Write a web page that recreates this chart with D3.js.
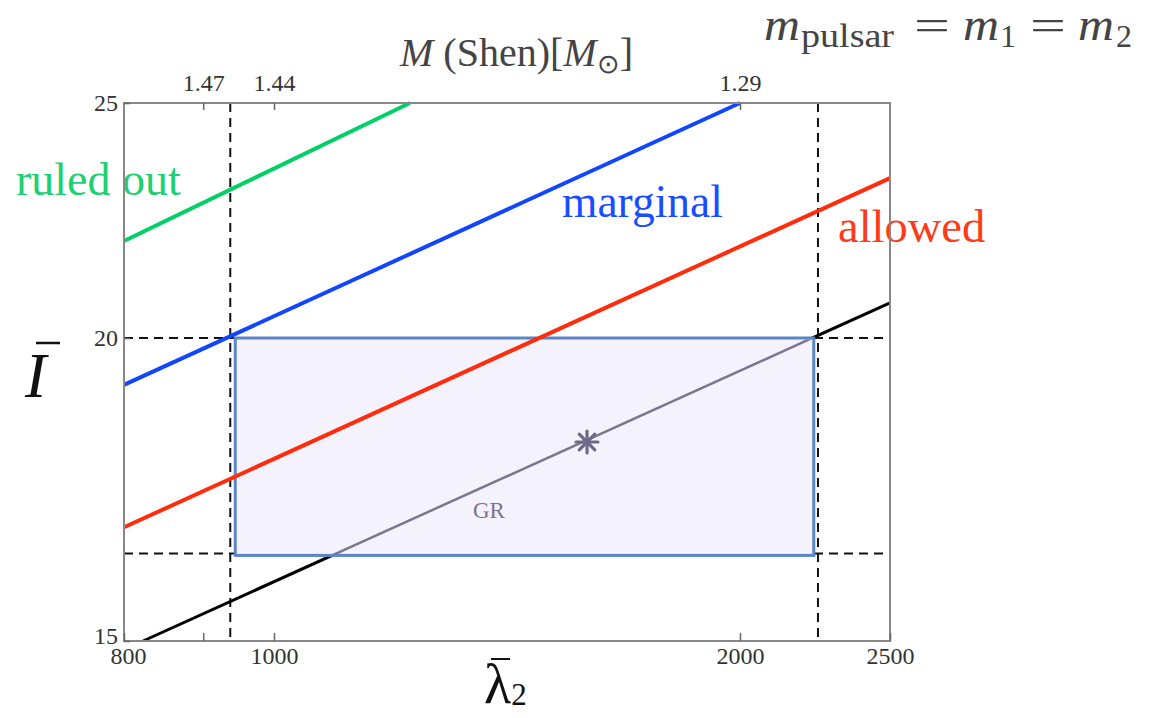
<!DOCTYPE html>
<html>
<head>
<meta charset="utf-8">
<script src="https://cdn.jsdelivr.net/npm/d3@7"></script>
<style>
  html, body { margin: 0; padding: 0; background: #fff; }
  svg { display: block; font-family: "Liberation Serif", "Times New Roman", serif; }
</style>
</head>
<body>
<svg id="chart" width="1149" height="718"></svg>
<script>
// Tidal deformability vs. moment of inertia (log-log)
const lambdaTicks = [800, 900, 1000, 2000, 2500];
const lambdaTickLabels = ["800", "", "1000", "2000", "2500"];
const massTickLambda = [900, 1000, 2000];
const massTickLabels = ["1.47", "1.44", "1.29"];
const inertiaTicks = [15, 20, 25];

// Straight (power-law) relations, given by their end points [lambda, I]
const ruledOutLine = [[800, 21.93], [1224, 25]];
const marginalLine = [[800, 19.13], [2000, 25]];
const allowedLine  = [[800, 16.71], [2500, 23.28]];
const grLine       = [[823, 15], [2500, 20.68]];
const grPoint      = [1593, 18.12];

// Measurement bounds and the allowed window
const lambdaLimits  = [937, 2246];
const inertiaLimits = [16.3, 20];
const boxLambda  = [944, 2232];
const boxInertia = [16.27, 20];

const W = 1149, H = 718;
const plot = { left: 124, right: 890, top: 103, bottom: 641 };

const svg = d3.select("#chart");
svg.append("rect").attr("width", W).attr("height", H).attr("fill", "#fff");

const x = d3.scaleLog().domain([800, 2500]).range([plot.left, plot.right]);
const y = d3.scaleLog().domain([15, 25]).range([plot.bottom, plot.top]);

const line = d3.line().x(d => x(d[0])).y(d => y(d[1]));

// dashed bounds
const dashes = svg.append("g")
  .attr("stroke", "#111").attr("stroke-width", 2).attr("stroke-dasharray", "9,6").attr("fill", "none");
lambdaLimits.forEach(v => {
  dashes.append("line").attr("x1", x(v)).attr("x2", x(v)).attr("y1", plot.top).attr("y2", plot.bottom);
});
inertiaLimits.forEach(v => {
  dashes.append("line").attr("x1", plot.left).attr("x2", plot.right).attr("y1", y(v)).attr("y2", y(v));
});

// GR relation (black), then the window on top of it
svg.append("path").attr("d", line(grLine))
  .attr("fill", "none").attr("stroke", "#000").attr("stroke-width", 3);

const bx0 = x(boxLambda[0]), bx1 = x(boxLambda[1]);
const by0 = y(boxInertia[1]), by1 = y(boxInertia[0]);
svg.append("rect")
  .attr("x", bx0).attr("y", by0).attr("width", bx1 - bx0).attr("height", by1 - by0)
  .attr("fill", "#f4f2fc").attr("stroke", "#5b86c4").attr("stroke-width", 3);

svg.append("clipPath").attr("id", "boxClip")
  .append("rect").attr("x", bx0 + 1.5).attr("y", by0 + 1.5)
  .attr("width", bx1 - bx0 - 3).attr("height", by1 - by0 - 3);

svg.append("path").attr("d", line(grLine)).attr("clip-path", "url(#boxClip)")
  .attr("fill", "none").attr("stroke", "#7c7592").attr("stroke-width", 2.5);

// GR point
const px = x(grPoint[0]), py = y(grPoint[1]);
const star = svg.append("g").attr("stroke", "#6f6989").attr("stroke-width", 3.2).attr("stroke-linecap", "round");
[0, 45, 90, 135].forEach(a => {
  const r = 11, t = a * Math.PI / 180;
  star.append("line")
    .attr("x1", px - r * Math.cos(t)).attr("y1", py - r * Math.sin(t))
    .attr("x2", px + r * Math.cos(t)).attr("y2", py + r * Math.sin(t));
});

svg.append("text").attr("x", 473).attr("y", 518)
  .attr("font-size", 23).attr("fill", "#7a7292").text("GR");

// bound relations
const series = [
  { pts: allowedLine,  color: "#ff2d0c" },
  { pts: marginalLine, color: "#1146ff" },
  { pts: ruledOutLine, color: "#00d066" }
];
series.forEach(s => {
  svg.append("path").attr("d", line(s.pts))
    .attr("fill", "none").attr("stroke", s.color).attr("stroke-width", 4);
});

// series labels
svg.append("text").attr("x", 16).attr("y", 195).attr("font-size", 46)
  .attr("fill", "#1fd070").text("ruled out");
svg.append("text").attr("x", 562).attr("y", 217).attr("font-size", 45.5)
  .attr("fill", "#1a4dff").text("marginal");
svg.append("text").attr("x", 838).attr("y", 242).attr("font-size", 46.5)
  .attr("fill", "#ff3a18").text("allowed");

// frame
svg.append("rect")
  .attr("x", plot.left).attr("y", plot.top)
  .attr("width", plot.right - plot.left).attr("height", plot.bottom - plot.top)
  .attr("fill", "none").attr("stroke", "#888").attr("stroke-width", 2);

// axes
const styleAxis = g => {
  g.select(".domain").remove();
  g.selectAll(".tick line").attr("stroke", "#666").attr("stroke-width", 1.5);
  g.selectAll(".tick text").attr("font-family", "Liberation Serif, serif").attr("font-size", 24);
  g.attr("color", "#333");
};

svg.append("g").attr("transform", `translate(0,${plot.bottom})`)
  .call(d3.axisBottom(x).tickValues(lambdaTicks).tickFormat((d, i) => lambdaTickLabels[i])
    .tickSizeInner(-8).tickSizeOuter(0).tickPadding(6))
  .call(styleAxis)
  .call(g => g.selectAll(".tick text").filter((d, i) => i === 0).attr("dx", 4));

svg.append("g").attr("transform", `translate(0,${plot.top})`)
  .call(d3.axisTop(x).tickValues(massTickLambda).tickFormat((d, i) => massTickLabels[i])
    .tickSizeInner(-7).tickSizeOuter(0).tickPadding(12))
  .call(styleAxis);

svg.append("g").attr("transform", `translate(${plot.left},0)`)
  .call(d3.axisLeft(y).tickValues(inertiaTicks).tickFormat(d3.format("d"))
    .tickSizeInner(-6).tickSizeOuter(0).tickPadding(6))
  .call(styleAxis)
  .call(g => g.selectAll(".tick text").filter(d => d === 15).attr("dy", "0.1em"));

// axis titles
const topTitle = svg.append("text").attr("x", 400).attr("y", 66)
  .attr("font-size", 40).attr("fill", "#444");
topTitle.append("tspan").attr("font-style", "italic").text("M");
topTitle.append("tspan").text(" (Shen)[");
topTitle.append("tspan").attr("font-style", "italic").text("M");
topTitle.append("tspan").attr("font-size", 27).attr("dy", 7).text("\u2299");
topTitle.append("tspan").attr("dy", -7).text("]");

// mass equality note, each piece placed along the baseline
const eqParts = [
  { t: "m", x: 764, italic: true, size: 46, len: 36 },
  { t: "pulsar", x: 801, sub: true, size: 34, len: 93 },
  { t: "=", x: 914, size: 44, len: 36 },
  { t: "m", x: 963, italic: true, size: 46, len: 36 },
  { t: "1", x: 1000, sub: true, size: 32 },
  { t: "=", x: 1030, size: 44, len: 36 },
  { t: "m", x: 1078, italic: true, size: 46, len: 36 },
  { t: "2", x: 1116, sub: true, size: 32 }
];
const eqG = svg.append("g").attr("fill", "#444");
eqParts.forEach(p => {
  const t = eqG.append("text").attr("x", p.x).attr("y", p.sub ? 47 : 40)
    .attr("font-style", p.italic ? "italic" : null)
    .attr("font-size", p.size)
    .text(p.t);
  if (p.len) t.attr("textLength", p.len).attr("lengthAdjust", "spacingAndGlyphs");
});

// y title: I with bar
svg.append("text").attr("x", 25).attr("y", 397)
  .attr("font-size", 64).attr("font-style", "italic").attr("fill", "#111").text("I");
svg.append("line").attr("x1", 36).attr("x2", 60).attr("y1", 343).attr("y2", 343)
  .attr("stroke", "#111").attr("stroke-width", 2.5);

// x title: lambda bar, subscript 2
const xTitle = svg.append("text").attr("x", 484).attr("y", 703)
  .attr("font-size", 56).attr("fill", "#111");
xTitle.append("tspan").text("\u03bb");
xTitle.append("tspan").attr("font-size", 31).attr("dy", 2).text("2");
svg.append("line").attr("x1", 491).attr("x2", 510).attr("y1", 659).attr("y2", 659)
  .attr("stroke", "#111").attr("stroke-width", 2);
</script>
</body>
</html>
